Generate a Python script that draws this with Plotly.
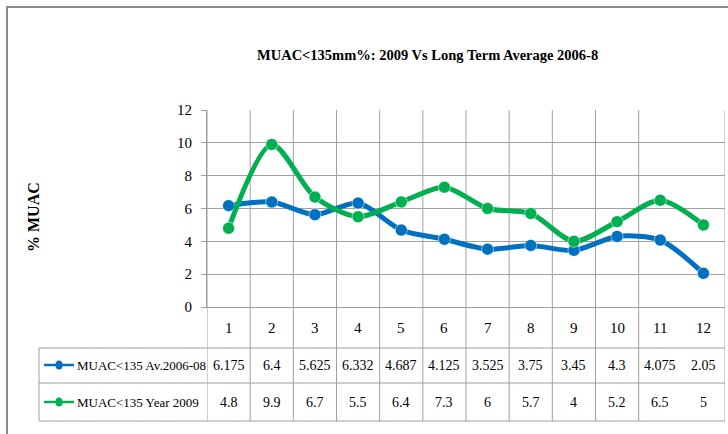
import plotly.graph_objects as go

months = [1, 2, 3, 4, 5, 6, 7, 8, 9, 10, 11, 12]
month_labels = ["1", "2", "3", "4", "5", "6", "7", "8", "9", "10", "11", "12"]
avg_2006_08 = [6.175, 6.4, 5.625, 6.332, 4.687, 4.125, 3.525, 3.75, 3.45, 4.3, 4.075, 2.05]
avg_labels = ["6.175", "6.4", "5.625", "6.332", "4.687", "4.125", "3.525", "3.75", "3.45", "4.3", "4.075", "2.05"]
year_2009 = [4.8, 9.9, 6.7, 5.5, 6.4, 7.3, 6, 5.7, 4, 5.2, 6.5, 5]
year_labels = ["4.8", "9.9", "6.7", "5.5", "6.4", "7.3", "6", "5.7", "4", "5.2", "6.5", "5"]
series_names = ["MUAC<135 Av.2006-08", "MUAC<135 Year 2009"]
y_ticks = [0, 2, 4, 6, 8, 10, 12]

BLUE = "#0070C0"
GREEN = "#00B050"
GRID = "#a0a0a0"
FONT = "Liberation Serif"

W, H = 728, 434
L, R, T, B = 207, 3, 110, 127
PW = W - L - R
PH = H - T - B


def px2x(X):
    return (X - L) / PW


def px2y(Y):
    return (H - B - Y) / PH


fig = go.Figure()
for vals, col in [(avg_2006_08, BLUE), (year_2009, GREEN)]:
    fig.add_trace(go.Scatter(
        x=months, y=vals, mode="lines+markers",
        line=dict(color=col, width=5, shape="spline", smoothing=0.8),
        marker=dict(color=col, size=12, line=dict(color="rgba(255,255,255,0.5)", width=1)),
        showlegend=False, hoverinfo="skip"))

shapes = []
# outer frame
shapes.append(dict(type="rect", xref="paper", yref="paper",
                   x0=px2x(7), x1=px2x(760), y0=px2y(7), y1=px2y(470),
                   line=dict(color="#8c8c8c", width=2), layer="below"))

row_lines = [348, 383, 421]
boundaries = [m + 0.5 for m in range(0, 13) if m != 11]
# vertical lines through plot and table
for b in boundaries:
    shapes.append(dict(type="line", xref="x", yref="paper", x0=b, x1=b,
                       y0=px2y(421), y1=1, line=dict(color=GRID, width=1), layer="below"))
# horizontal table lines
for yy in row_lines:
    shapes.append(dict(type="line", xref="paper", yref="paper", x0=px2x(39), x1=1,
                       y0=px2y(yy), y1=px2y(yy), line=dict(color=GRID, width=1)))
shapes.append(dict(type="line", xref="paper", yref="paper", x0=px2x(39), x1=px2x(39),
                   y0=px2y(348), y1=px2y(421), line=dict(color=GRID, width=1)))

annotations = []
row_y = [365, 402]
for name, col, yy in zip(series_names, [BLUE, GREEN], row_y):
    shapes.append(dict(type="line", xref="paper", yref="paper", x0=px2x(44), x1=px2x(74),
                       y0=px2y(yy), y1=px2y(yy), line=dict(color=col, width=2.5)))
    shapes.append(dict(type="circle", xref="paper", yref="paper", xsizemode="pixel",
                       ysizemode="pixel", xanchor=px2x(59), yanchor=px2y(yy),
                       x0=-3.5, x1=3.5, y0=-4.5, y1=4.5, fillcolor=col, line=dict(color=col, width=0)))
    annotations.append(dict(text=name, xref="paper", yref="paper", x=px2x(75), y=px2y(yy),
                            xanchor="left", yanchor="middle", showarrow=False,
                            font=dict(family=FONT, size=13, color="#000")))

for m, lab in zip(months, month_labels):
    annotations.append(dict(text=lab, xref="x", yref="paper", x=m, y=px2y(328),
                            showarrow=False, xanchor="center", yanchor="middle",
                            font=dict(family=FONT, size=15, color="#000")))
for labels, yy in zip([avg_labels, year_labels], row_y):
    for m, lab in zip(months, labels):
        annotations.append(dict(text=lab, xref="x", yref="paper", x=m, y=px2y(yy),
                                showarrow=False, xanchor="center", yanchor="middle",
                                font=dict(family=FONT, size=14, color="#000")))

annotations.append(dict(text="<b>% MUAC</b>", xref="paper", yref="paper", x=px2x(33), y=px2y(217),
                        textangle=-90, showarrow=False, xanchor="center", yanchor="middle",
                        font=dict(family=FONT, size=16, color="#000")))
annotations.append(dict(text="<b>MUAC<135mm%: 2009 Vs Long Term Average 2006-8</b>",
                        xref="paper", yref="paper", x=px2x(427), y=px2y(55),
                        showarrow=False, xanchor="center", yanchor="middle",
                        font=dict(family=FONT, size=14.5, color="#000")))

fig.update_layout(
    width=W, height=H,
    margin=dict(l=L, r=R, t=T, b=B, pad=0),
    paper_bgcolor="white", plot_bgcolor="white",
    shapes=shapes, annotations=annotations,
    xaxis=dict(range=[0.5, 12.5], showgrid=False, showticklabels=False, ticks="",
               zeroline=False, showline=True, linecolor=GRID, linewidth=1, fixedrange=True),
    yaxis=dict(range=[0, 12], tickvals=y_ticks, ticktext=[str(v) for v in y_ticks],
               showgrid=True, gridcolor=GRID, gridwidth=1, zeroline=False,
               showline=True, linecolor=GRID, linewidth=1,
               ticks="outside", ticklen=5, tickcolor=GRID, ticklabelstandoff=6,
               tickfont=dict(family=FONT, size=15, color="#000"), fixedrange=True),
)

fig.write_html("out.html", config={"displayModeBar": False},
               post_script="document.body.style.margin='0';document.body.style.overflow='hidden';")
